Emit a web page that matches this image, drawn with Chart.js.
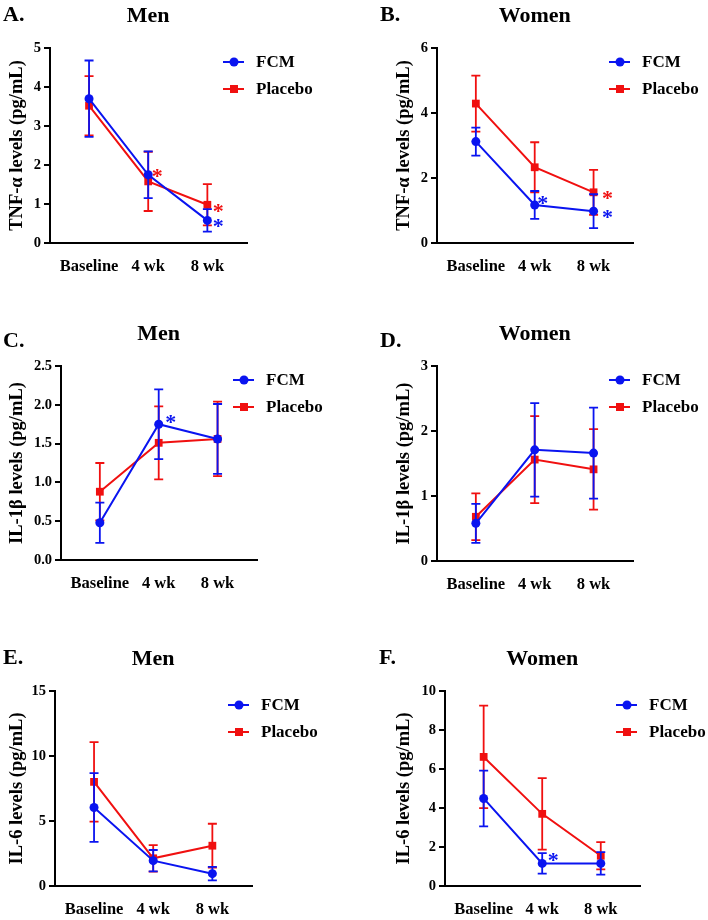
<!DOCTYPE html>
<html>
<head>
<meta charset="utf-8">
<script src="https://cdn.jsdelivr.net/npm/chart.js@4/dist/chart.umd.min.js"></script>
<style>
  html, body { margin: 0; padding: 0; background: #fff; }
  #wrap { position: relative; width: 708px; height: 920px; overflow: hidden; }
  #wrap canvas { position: absolute; }
</style>
</head>
<body>
<div id="wrap"></div>

<script>
// ---- data (mean and error bar half-length) ----
const timepoints = ['Baseline', '4 wk', '8 wk'];

const tnfMenFcm = [3.70, 1.75, 0.58];
const tnfMenFcmErr = [0.98, 0.60, 0.29];
const tnfMenPlacebo = [3.52, 1.58, 0.98];
const tnfMenPlaceboErr = [0.76, 0.76, 0.53];

const tnfWomenFcm = [3.12, 1.17, 0.98];
const tnfWomenFcmErr = [0.43, 0.43, 0.52];
const tnfWomenPlacebo = [4.29, 2.33, 1.56];
const tnfWomenPlaceboErr = [0.86, 0.77, 0.69];

const il1bMenFcm = [0.48, 1.75, 1.56];
const il1bMenFcmErr = [0.26, 0.45, 0.45];
const il1bMenPlacebo = [0.88, 1.51, 1.56];
const il1bMenPlaceboErr = [0.37, 0.47, 0.48];

const il1bWomenFcm = [0.58, 1.71, 1.66];
const il1bWomenFcmErr = [0.30, 0.72, 0.70];
const il1bWomenPlacebo = [0.68, 1.56, 1.41];
const il1bWomenPlaceboErr = [0.36, 0.67, 0.62];

const il6MenFcm = [6.04, 1.95, 0.95];
const il6MenFcmErr = [2.64, 0.82, 0.52];
const il6MenPlacebo = [8.01, 2.13, 3.10];
const il6MenPlaceboErr = [3.06, 1.02, 1.69];

const il6WomenFcm = [4.49, 1.16, 1.16];
const il6WomenFcmErr = [1.43, 0.53, 0.58];
const il6WomenPlacebo = [6.62, 3.70, 1.55];
const il6WomenPlaceboErr = [2.63, 1.83, 0.70];

// significance asterisks: series, time index, y value
const tnfMenStars = [
  { series: 'Placebo', at: 1, y: 1.82, dx: 9 },
  { series: 'Placebo', at: 2, y: 0.92, dx: 11 },
  { series: 'FCM', at: 2, y: 0.54, dx: 11 }
];
const tnfWomenStars = [
  { series: 'FCM', at: 1, y: 1.35, dx: 8 },
  { series: 'Placebo', at: 2, y: 1.50, dx: 14 },
  { series: 'FCM', at: 2, y: 0.92, dx: 14 }
];
const il1bMenStars = [{ series: 'FCM', at: 1, y: 1.83, dx: 12 }];
const il1bWomenStars = [];
const il6MenStars = [];
const il6WomenStars = [{ series: 'FCM', at: 1, y: 1.54, dx: 11 }];

const BLUE = '#0a14f0';
const RED = '#f01010';
const FONT = "'Liberation Serif', 'Times New Roman', serif";

// panel layout: canvas placement and plot area inside each canvas
const panels = [
  { letter: 'A.', title: 'Men', yTitle: 'TNF-α levels (pg/mL)', yMax: 5, yStep: 1, dec: 0,
    fcm: tnfMenFcm, fcmErr: tnfMenFcmErr, pla: tnfMenPlacebo, plaErr: tnfMenPlaceboErr, stars: tnfMenStars,
    x: 0, y: 0, h: 300, box: { left: 50, right: 247, top: 48, bottom: 243 }, lp: [3, 14], tx: 17 },
  { letter: 'B.', title: 'Women', yTitle: 'TNF-α levels (pg/mL)', yMax: 6, yStep: 2, dec: 0,
    fcm: tnfWomenFcm, fcmErr: tnfWomenFcmErr, pla: tnfWomenPlacebo, plaErr: tnfWomenPlaceboErr, stars: tnfWomenStars,
    x: 354, y: 0, h: 300, box: { left: 83, right: 279, top: 48, bottom: 243 }, lp: [26, 14], tx: 50 },
  { letter: 'C.', title: 'Men', yTitle: 'IL-1β levels (pg/mL)', yMax: 2.5, yStep: 0.5, dec: 1,
    fcm: il1bMenFcm, fcmErr: il1bMenFcmErr, pla: il1bMenPlacebo, plaErr: il1bMenPlaceboErr, stars: il1bMenStars,
    x: 0, y: 300, h: 310, box: { left: 61, right: 257, top: 66, bottom: 260 }, lp: [3, 40], tx: 17 },
  { letter: 'D.', title: 'Women', yTitle: 'IL-1β levels (pg/mL)', yMax: 3, yStep: 1, dec: 0,
    fcm: il1bWomenFcm, fcmErr: il1bWomenFcmErr, pla: il1bWomenPlacebo, plaErr: il1bWomenPlaceboErr, stars: il1bWomenStars,
    x: 354, y: 300, h: 310, box: { left: 83, right: 279, top: 66, bottom: 261 }, lp: [26, 40], tx: 50 },
  { letter: 'E.', title: 'Men', yTitle: 'IL-6 levels (pg/mL)', yMax: 15, yStep: 5, dec: 0,
    fcm: il6MenFcm, fcmErr: il6MenFcmErr, pla: il6MenPlacebo, plaErr: il6MenPlaceboErr, stars: il6MenStars,
    x: 0, y: 610, h: 310, box: { left: 55, right: 252, top: 81, bottom: 276 }, lp: [3, 47], tx: 17 },
  { letter: 'F.', title: 'Women', yTitle: 'IL-6 levels (pg/mL)', yMax: 10, yStep: 2, dec: 0,
    fcm: il6WomenFcm, fcmErr: il6WomenFcmErr, pla: il6WomenPlacebo, plaErr: il6WomenPlaceboErr, stars: il6WomenStars,
    x: 354, y: 610, h: 310, box: { left: 91, right: 286, top: 81, bottom: 276 }, lp: [25, 47], tx: 50 }
];

const Y_AXIS_W = 40;
const X_AXIS_H = 40;

// error bars drawn right after each dataset
const errorBarPlugin = {
  id: 'errorBars',
  afterDatasetDraw(chart, args) {
    const ds = chart.data.datasets[args.index];
    const ctx = chart.ctx;
    const xs = chart.scales.x, ys = chart.scales.y;
    ctx.save();
    ctx.strokeStyle = ds.borderColor;
    ctx.lineWidth = 1.8;
    ds.data.forEach((p, i) => {
      const e = ds.errors[i];
      const px = xs.getPixelForValue(p.x);
      const top = ys.getPixelForValue(p.y + e);
      const bot = ys.getPixelForValue(Math.max(0, p.y - e));
      ctx.beginPath();
      ctx.moveTo(px, top); ctx.lineTo(px, bot);
      ctx.moveTo(px - 4.5, top); ctx.lineTo(px + 4.5, top);
      ctx.moveTo(px - 4.5, bot); ctx.lineTo(px + 4.5, bot);
      ctx.stroke();
    });
    ctx.restore();
  }
};

// letters, titles, y title, legend and asterisks
const decorPlugin = {
  id: 'decor',
  afterDraw(chart, args, opts) {
    const ctx = chart.ctx;
    const area = chart.chartArea;
    const xs = chart.scales.x, ys = chart.scales.y;
    ctx.save();
    ctx.fillStyle = '#000';
    ctx.textBaseline = 'middle';

    ctx.font = 'bold 22px ' + FONT;
    ctx.textAlign = 'left';
    ctx.fillText(opts.letter, opts.lp[0], opts.lp[1] + 1);

    ctx.font = 'bold 22px ' + FONT;
    ctx.textAlign = 'center';
    ctx.fillText(opts.title, xs.getPixelForValue(1), area.top - 32);

    // y axis title
    ctx.save();
    ctx.translate(opts.tx, (area.top + area.bottom) / 2);
    ctx.rotate(-Math.PI / 2);
    ctx.font = 'bold 18.5px ' + FONT;
    ctx.fillText(opts.yTitle, 0, 0);
    ctx.restore();

    // legend
    chart.data.datasets.forEach((ds, i) => {
      const ly = area.top + 14 + i * 27;
      const mx = area.right - 13;
      ctx.strokeStyle = ds.borderColor;
      ctx.fillStyle = ds.borderColor;
      ctx.lineWidth = 2;
      ctx.beginPath();
      ctx.moveTo(area.right - 24, ly); ctx.lineTo(area.right - 3, ly);
      ctx.stroke();
      if (ds.pointStyle === 'rect') {
        ctx.fillRect(mx - 4, ly - 4, 8, 8);
      } else {
        ctx.beginPath(); ctx.arc(mx, ly, 4.5, 0, Math.PI * 2); ctx.fill();
      }
      ctx.fillStyle = '#000';
      ctx.font = 'bold 17px ' + FONT;
      ctx.textAlign = 'left';
      ctx.fillText(ds.label, area.right + 9, ly + 1);
    });

    // asterisks
    ctx.font = 'bold 22px ' + FONT;
    ctx.textAlign = 'center';
    ctx.textBaseline = 'alphabetic';
    opts.stars.forEach(s => {
      ctx.fillStyle = s.series === 'FCM' ? BLUE : RED;
      ctx.fillText('*', xs.getPixelForValue(s.at) + s.dx, ys.getPixelForValue(s.y) + 11);
    });
    ctx.restore();
  }
};

function points(vals) {
  return vals.map((v, i) => ({ x: i, y: v }));
}

const wrap = document.getElementById('wrap');
panels.forEach(p => {
  const cv = document.createElement('canvas');
  cv.width = 354; cv.height = p.h;
  cv.style.left = p.x + 'px';
  cv.style.top = p.y + 'px';
  cv.style.width = '354px';
  cv.style.height = p.h + 'px';
  wrap.appendChild(cv);

  new Chart(cv.getContext('2d'), {
    type: 'line',
    data: {
      datasets: [
        { label: 'FCM', data: points(p.fcm), errors: p.fcmErr, borderColor: BLUE, backgroundColor: BLUE,
          pointStyle: 'circle', pointRadius: 4.5, borderWidth: 2, pointBorderWidth: 0 },
        { label: 'Placebo', data: points(p.pla), errors: p.plaErr, borderColor: RED, backgroundColor: RED,
          pointStyle: 'rect', pointRadius: 5.5, borderWidth: 2, pointBorderWidth: 0 }
      ]
    },
    options: {
      responsive: false,
      animation: false,
      devicePixelRatio: 1,
      layout: {
        padding: {
          left: p.box.left - Y_AXIS_W,
          right: 354 - p.box.right,
          top: p.box.top,
          bottom: p.h - p.box.bottom - X_AXIS_H
        }
      },
      plugins: {
        legend: { display: false },
        tooltip: { enabled: false },
        decor: { letter: p.letter, title: p.title, lp: p.lp, stars: p.stars, yTitle: p.yTitle, tx: p.tx }
      },
      scales: {
        x: {
          type: 'linear',
          min: -0.66,
          max: 2.67,
          afterBuildTicks: s => { s.ticks = [0, 1, 2].map(v => ({ value: v })); },
          afterFit: s => { s.height = X_AXIS_H; },
          grid: { display: false, drawTicks: false },
          border: { display: true, color: '#000', width: 2 },
          ticks: {
            color: '#000',
            padding: 14,
            maxRotation: 0,
            autoSkip: false,
            font: { family: FONT, size: 16.5, weight: 'bold' },
            callback: v => timepoints[v]
          }
        },
        y: {
          min: 0,
          max: p.yMax,
          afterFit: s => { s.width = Y_AXIS_W; },
          grid: { display: true, drawOnChartArea: false, drawTicks: true, tickLength: 6, color: '#000', lineWidth: 2 },
          border: { display: true, color: '#000', width: 2 },
          ticks: {
            stepSize: p.yStep,
            color: '#000',
            padding: 3,
            font: { family: FONT, size: 14.5, weight: 'bold' },
            callback: v => v.toFixed(p.dec)
          }
        }
      }
    },
    plugins: [errorBarPlugin, decorPlugin]
  });
});
</script>
</body>
</html>
